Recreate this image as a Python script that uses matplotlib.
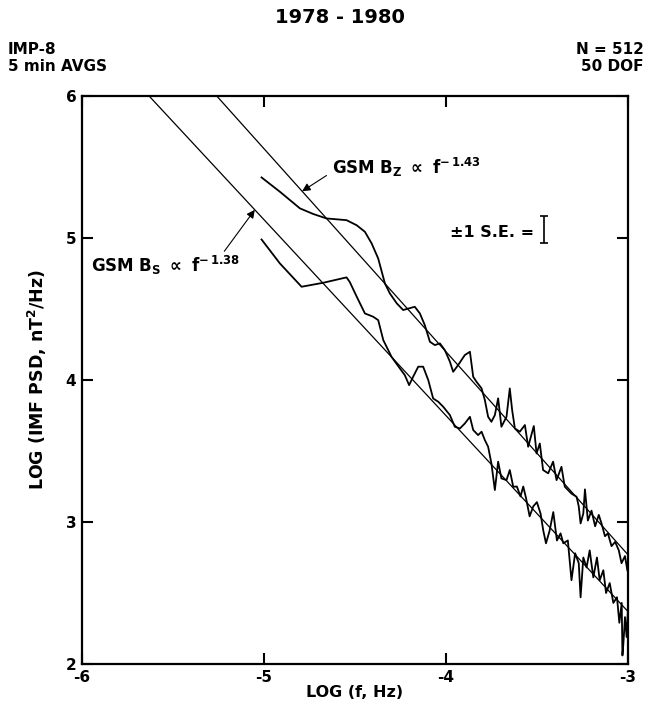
import numpy as np
import matplotlib
matplotlib.use("Agg")
import matplotlib.pyplot as plt

plt.rcParams["font.family"] = ["DejaVu Sans"]
plt.rcParams["font.weight"] = "bold"
plt.rcParams["mathtext.default"] = "regular"

# power-law fits: log PSD = intercept + slope * log f
bz_slope, bz_icpt = -1.43, -1.52
bs_slope, bs_icpt = -1.38, -1.77

# GSM Bz spectrum (log f, log PSD)
bz_logf = [-5.013, -4.912, -4.802, -4.73, -4.656, -4.546, -4.49, -4.445, -4.408, -4.372,
           -4.335, -4.308, -4.27, -4.235, -4.171, -4.143, -4.116, -4.088, -4.061, -4.033,
           -4.006, -3.978, -3.96, -3.933, -3.896, -3.868, -3.85, -3.832, -3.804, -3.786,
           -3.768, -3.75, -3.731, -3.713, -3.695, -3.667, -3.649, -3.636, -3.621, -3.594,
           -3.566, -3.548, -3.517, -3.502, -3.484, -3.466, -3.438, -3.411, -3.392, -3.365,
           -3.347, -3.31, -3.282, -3.27, -3.26, -3.245, -3.236, -3.22, -3.20, -3.18,
           -3.16, -3.145, -3.126, -3.11, -3.09, -3.07, -3.05, -3.035, -3.016, -3.003]
bz_logpsd = [5.427, 5.326, 5.209, 5.17, 5.138, 5.126, 5.09, 5.044, 4.962, 4.856,
             4.68, 4.61, 4.54, 4.493, 4.516, 4.469, 4.387, 4.27, 4.246, 4.258,
             4.211, 4.129, 4.058, 4.105, 4.176, 4.199, 4.023, 3.988, 3.941, 3.859,
             3.741, 3.706, 3.753, 3.871, 3.671, 3.741, 3.941, 3.788, 3.659, 3.636,
             3.683, 3.53, 3.676, 3.483, 3.553, 3.366, 3.343, 3.425, 3.295, 3.389,
             3.249, 3.20, 3.178, 3.11, 2.99, 3.06, 3.23, 3.01, 3.08, 2.97,
             3.05, 2.99, 2.90, 2.92, 2.83, 2.86, 2.80, 2.71, 2.76, 2.66]

# GSM Bs spectrum
bs_logf = [-5.013, -4.912, -4.793, -4.674, -4.546, -4.528, -4.49, -4.445, -4.40, -4.372,
           -4.344, -4.317, -4.299, -4.253, -4.226, -4.202, -4.18, -4.152, -4.125, -4.097,
           -4.07, -4.042, -4.015, -3.978, -3.951, -3.923, -3.896, -3.868, -3.85, -3.823,
           -3.804, -3.786, -3.768, -3.75, -3.731, -3.713, -3.695, -3.667, -3.649, -3.63,
           -3.61, -3.59, -3.575, -3.56, -3.54,
           -3.52, -3.50, -3.48, -3.465, -3.45, -3.43, -3.41, -3.39, -3.37, -3.355,
           -3.33, -3.31, -3.29, -3.27, -3.26, -3.245, -3.227, -3.21, -3.19, -3.17,
           -3.155, -3.135, -3.12, -3.10, -3.08, -3.06, -3.047, -3.034, -3.03, -3.025,
           -3.016, -3.007, -3.0]
bs_logpsd = [4.99, 4.821, 4.657, 4.685, 4.723, 4.69, 4.587, 4.469, 4.446, 4.422,
             4.281, 4.211, 4.164, 4.082, 4.035, 3.964, 4.023, 4.094, 4.094, 4.0,
             3.87, 3.847, 3.812, 3.753, 3.671, 3.659, 3.694, 3.741, 3.648, 3.612,
             3.636, 3.577, 3.53, 3.413, 3.225, 3.425, 3.307, 3.295, 3.366, 3.248,
             3.25, 3.18, 3.25, 3.17, 3.04,
             3.11, 3.14, 3.06, 2.94, 2.85, 2.94, 3.07, 2.87, 2.92, 2.85,
             2.87, 2.59, 2.78, 2.71, 2.47, 2.75, 2.68, 2.80, 2.61, 2.75,
             2.59, 2.66, 2.50, 2.57, 2.43, 2.47, 2.29, 2.43, 2.06, 2.14,
             2.33, 2.19, 2.38]

x_ticks = [-6, -5, -4, -3]
y_ticks = [2, 3, 4, 5, 6]

fig = plt.figure(figsize=(6.5, 7.09), dpi=100)
ax = fig.add_axes([0.126, 0.0635, 0.840, 0.801])

fit_x = np.array([-6.0, -3.0])
ax.plot(fit_x, bz_icpt + bz_slope * fit_x, color="black", lw=0.9)
ax.plot(fit_x, bs_icpt + bs_slope * fit_x, color="black", lw=0.9)
ax.plot(bz_logf, bz_logpsd, color="black", lw=1.3)
ax.plot(bs_logf, bs_logpsd, color="black", lw=1.3)

ax.set_xlim(-6, -3)
ax.set_ylim(2, 6)
ax.set_xticks(x_ticks)
ax.set_yticks(y_ticks)
ax.set_xticklabels([str(t) for t in x_ticks])
ax.tick_params(direction="in", length=8, width=1.5, top=True, right=True,
               labelsize=11, pad=4)
for s in ax.spines.values():
    s.set_linewidth(1.6)

ax.set_xlabel("LOG (f, Hz)", fontsize=11.5, fontweight="bold", labelpad=0)
ax.set_ylabel("LOG (IMF PSD, nT$^2$/Hz)", fontsize=12.5, fontweight="bold", labelpad=12)

# annotations
ax.annotate("GSM B$_Z$ $\\propto$ f$^{-\\,1.43}$", xy=(-4.79, bz_icpt + bz_slope * -4.79),
            xytext=(-4.628, 5.45), fontsize=12, fontweight="bold",
            arrowprops=dict(arrowstyle="-|>", color="black", lw=0.8, shrinkA=2, shrinkB=0,
                            mutation_scale=12, relpos=(0.0, 0.3)))
ax.annotate("GSM B$_S$ $\\propto$ f$^{-\\,1.38}$", xy=(-5.05, bs_icpt + bs_slope * -5.05),
            xytext=(-5.95, 4.76), fontsize=12, fontweight="bold",
            arrowprops=dict(arrowstyle="-|>", color="black", lw=0.8, shrinkA=0, shrinkB=0,
                            mutation_scale=12, relpos=(0.88, 1.0)))

ax.text(-3.98, 5.04, "±1 S.E. =", fontsize=11.5, fontweight="bold", va="center")
ax.errorbar([-3.46], [5.06], yerr=[0.095], color="black", capsize=3, lw=1.2,
            capthick=1.2)

fig.text(0.523, 0.975, "1978 - 1980", ha="center", va="center", fontsize=14, fontweight="bold")
fig.text(0.012, 0.918, "IMP-8\n5 min AVGS", ha="left", va="center", fontsize=11,
         fontweight="bold", linespacing=1.2)
fig.text(0.99, 0.918, "N = 512\n50 DOF", ha="right", va="center", fontsize=11,
         fontweight="bold", linespacing=1.2)

fig.savefig("out.png", dpi=100)
